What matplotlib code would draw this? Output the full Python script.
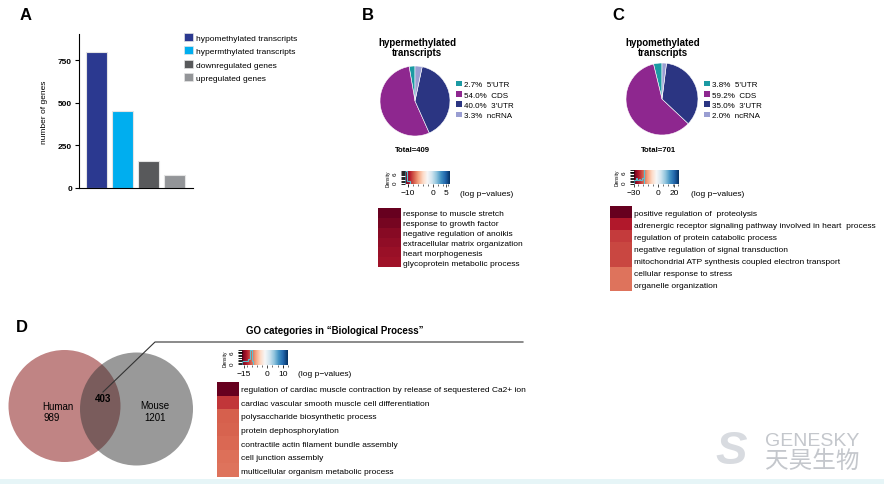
import numpy as np
import matplotlib
matplotlib.use("Agg")
import matplotlib.pyplot as plt
from matplotlib.patches import Patch, Circle, Rectangle
from matplotlib.colors import Normalize
from matplotlib.ticker import MultipleLocator

plt.rcParams['font.family'] = ['Liberation Sans', 'DejaVu Sans']
plt.rcParams['axes.unicode_minus'] = True

W, H = 884, 485

# --- panel A: gene counts
groups = ['hypomethylated transcripts', 'hypermthylated transcripts',
          'downregulated genes', 'upregulated genes']
gene_counts = [800, 455, 160, 75]
group_colors = ['#2b3990', '#00aeef', '#58595b', '#939598']

# --- panels B / C: region pies
region_names = ["5'UTR", 'CDS', "3'UTR", 'ncRNA']
hyper_pct = [2.7, 54.0, 40.0, 3.3]
hypo_pct = [3.8, 59.2, 35.0, 2.0]
region_colors = ['#1b9aa3', '#8e278f', '#2b3582', '#9a9ed2']
hyper_total = 409
hypo_total = 701

# --- GO terms (log p-values)
go_hyper = ['response to muscle stretch', 'response to growth factor',
            'negative regulation of anoikis', 'extracellular matrix organization',
            'heart morphogenesis', 'glycoprotein metabolic process']
logp_hyper = [-11.0, -10.6, -10.2, -10.0, -9.8, -9.7]

go_hypo = ['positive regulation of  proteolysis',
           'adrenergic receptor signaling pathway involved in heart  process',
           'regulation of protein catabolic process',
           'negative regulation of signal transduction',
           'mitochondrial ATP synthesis coupled electron transport',
           'cellular response to stress', 'organelle organization']
logp_hypo = [-30.0, -24.4, -21.6, -20.6, -20.6, -17.2, -17.2]

go_shared = ['regulation of cardiac muscle contraction by release of sequestered Ca2+ ion',
             'cardiac vascular smooth muscle cell differentiation',
             'polysaccharide biosynthetic process', 'protein dephosphorylation',
             'contractile actin filament bundle assembly', 'cell junction assembly',
             'multicellular organism metabolic process']
logp_shared = [-16.0, -11.9, -10.2, -10.0, -9.8, -9.5, -9.4]

# density traces shown in the colour keys
dens_hyper_edges = [-11.0, -10.4, -9.8, -9.2]
dens_hyper_counts = [7.0, 1.0, 0.6]
dens_hypo_edges = [-30, -28, -26, -24, -22, -20, -18, -17]
dens_hypo_counts = [1.0, 2.2, 1.0, 2.0, 1.0, 2.2, 7.0]
dens_shared_edges = [-16, -14, -12, -11, -10, -9]
dens_shared_counts = [0.8, 0.8, 2.2, 7.0, 1.0]

# --- Venn
venn_names = ['Human', 'Mouse']
venn_only = [989, 1201]
venn_shared = 403

fig = plt.figure(figsize=(W / 100, H / 100), dpi=100)


def px_axes(x, y, w, h, **kw):
    return fig.add_axes([x / W, 1 - (y + h) / H, w / W, h / H], **kw)


def ftext(x, y, s, **kw):
    return fig.text(x / W, 1 - y / H, s, **kw)


# background overlay in pixel coordinates (venn, connector, watermark)
ov = fig.add_axes([0, 0, 1, 1], zorder=-1)
ov.set_xlim(0, W)
ov.set_ylim(H, 0)
ov.axis('off')
ov.add_patch(Rectangle((0, 480), W, 5, color='#e6f5f7', lw=0))

# ---------------- A
ftext(20, 16, 'A', fontsize=12, fontweight='bold', va='center')
axA = px_axes(79, 35, 114, 154)
axA.bar(range(len(gene_counts)), gene_counts, width=0.81, color=group_colors,
        edgecolor='#e4e4e4', linewidth=0.8)
axA.set_xlim(-0.67, 3.71)
axA.set_ylim(0, 905)
axA.set_yticks([0, 250, 500, 750])
axA.set_xticks([])
axA.spines[['top', 'right']].set_visible(False)
axA.tick_params(axis='y', labelsize=6, length=3, width=0.8, pad=2)
for lab in axA.get_yticklabels():
    lab.set_fontweight('bold')
axA.set_ylabel('number of genes', fontsize=6, labelpad=7)
handles = [Patch(facecolor=c, edgecolor='#e4e4e4', lw=0.5) for c in group_colors]
axA.legend(handles, groups, loc='upper left', bbox_to_anchor=(184 / W, 1 - 34 / H),
           bbox_transform=fig.transFigure, frameon=False, fontsize=6,
           handlelength=1.1, handleheight=1.1, handletextpad=0.35,
           labelspacing=0.55, borderpad=0, borderaxespad=0)


# ---------------- pies
def draw_pie(letter, lx, title, tx, box, pct, total, legx):
    ftext(lx, 16, letter, fontsize=12, fontweight='bold', va='center')
    ftext(tx, 48, title, fontsize=7, fontweight='bold', ha='center', va='center',
          linespacing=1.1)
    ax = px_axes(*box)
    ax.pie(pct, colors=region_colors, startangle=90, counterclock=True,
           wedgeprops=dict(edgecolor='white', linewidth=0.4))
    ax.set_xlim(-1, 1)
    ax.set_ylim(-1, 1)
    hs = [Patch(facecolor=c) for c in region_colors]
    labs = [f'{p:.1f}%  {n}' for p, n in zip(pct, region_names)]
    ax.legend(hs, labs, loc='upper left', bbox_to_anchor=(legx / W, 1 - 81.5 / H),
              bbox_transform=fig.transFigure, frameon=False, fontsize=5.8,
              handlelength=0.75, handleheight=0.75, handletextpad=0.3,
              labelspacing=0.32, borderpad=0, borderaxespad=0)
    cx = (box[0] + box[2] / 2)
    ftext(cx - 3, 150, f'Total={total}', fontsize=5.6, fontweight='bold',
          ha='center', va='center')


draw_pie('B', 362, 'hypermethylated\ntranscripts', 417, (380, 67, 70, 70),
         hyper_pct, hyper_total, 456)
draw_pie('C', 612, 'hypomethylated\ntranscripts', 663, (626, 64, 72, 72),
         hypo_pct, hypo_total, 704)


# ---------------- colour keys and GO heatmaps
def draw_key(box, vmin, vmax, ticks, edges, counts, label_x, label_y):
    ax = px_axes(*box)
    norm = Normalize(vmin, vmax)
    grad = np.linspace(vmin, vmax, 256)[None, :]
    ax.imshow(grad, cmap='RdBu', norm=norm, aspect='auto',
              extent=(vmin, vmax, -1.2, 7.2))
    ax.stairs(counts, edges, color='#5cc3d3', lw=0.8, baseline=-1.2)
    ax.set_xlim(vmin, vmax)
    ax.set_ylim(-1.2, 7.2)
    for s in ax.spines.values():
        s.set_visible(False)
    ax.set_xticks(ticks)
    ax.set_xticklabels([f'{t:g}'.replace('-', '\u2212') for t in ticks])
    ax.xaxis.set_minor_locator(MultipleLocator((vmax - vmin) / 9))
    ax.tick_params(axis='x', which='major', labelsize=6, length=2, width=0.5, pad=1.5)
    ax.tick_params(axis='x', which='minor', length=1.5, width=0.4)
    ax.set_yticks([0, 6])
    ax.yaxis.set_minor_locator(MultipleLocator(0.9))
    ax.tick_params(axis='y', which='both', length=3, width=0.6, pad=2, labelsize=4.5,
                   labelrotation=90)
    for lab in ax.get_yticklabels():
        lab.set_va('center')
    ax.set_ylabel('Density', fontsize=3.5, labelpad=2)
    ftext(label_x, label_y, '(log p\u2212values)', fontsize=6, va='center')
    return norm


def draw_go(box, terms, vals, norm):
    ax = px_axes(*box)
    ax.pcolormesh(np.array(vals)[:, None], cmap='RdBu', norm=norm)
    ax.set_ylim(len(vals), 0)
    ax.set_xticks([])
    ax.set_yticks(np.arange(len(vals)) + 0.5)
    ax.set_yticklabels(terms)
    ax.yaxis.tick_right()
    ax.tick_params(axis='y', length=0, pad=1.5, labelsize=6)
    for s in ax.spines.values():
        s.set_visible(False)


nB = draw_key((405, 172, 45, 13), -11, 6.5, [-10, 0, 5], dens_hyper_edges,
              dens_hyper_counts, 460, 195)
draw_go((378, 209, 23, 59), go_hyper, logp_hyper, nB)

nC = draw_key((634, 171, 45, 14), -30, 26, [-30, 0, 20], dens_hypo_edges,
              dens_hypo_counts, 691, 194)
draw_go((610, 207, 22, 85), go_hypo, logp_hypo, nC)

nD = draw_key((242, 351, 46, 15), -16, 13, [-15, 0, 10], dens_shared_edges,
              dens_shared_counts, 298, 374)
draw_go((217, 383, 22, 95), go_shared, logp_shared, nD)

# ---------------- D: Venn
ftext(16, 328, 'D', fontsize=12, fontweight='bold', va='center')
ov.add_patch(Circle((64.5, 407), 56, color='#c08484', lw=0))
ov.add_patch(Circle((136.5, 410), 56.5, color='#373737', alpha=0.51, lw=0))
ov.text(58, 407, venn_names[0], fontsize=7, ha='center', va='center')
ov.text(52, 418, str(venn_only[0]), fontsize=7, ha='center', va='center')
ov.text(155, 406, venn_names[1], fontsize=7, ha='center', va='center')
ov.text(155, 418, str(venn_only[1]), fontsize=7, ha='center', va='center')
ov.text(103, 399, str(venn_shared), fontsize=7, fontweight='bold', ha='center', va='center')
ov.plot([103, 155, 523], [393, 343, 343], color='#333333', lw=0.8)
ov.text(335, 331, 'GO categories in \u201cBiological Process\u201d', fontsize=7,
        fontweight='bold', ha='center', va='center')

# watermark
ov.text(731, 452, 'S', fontsize=34, fontweight='bold', style='italic',
        color='#d8dbe0', ha='center', va='center')
ov.text(812, 442, 'GENESKY', fontsize=14, color='#c4c7cc', ha='center', va='center')
ov.text(812, 461, '天昊生物', fontsize=17, color='#c4c7cc', ha='center', va='center',
        family=['Noto Sans CJK SC', 'DejaVu Sans'])

fig.savefig('out.png', dpi=100)
